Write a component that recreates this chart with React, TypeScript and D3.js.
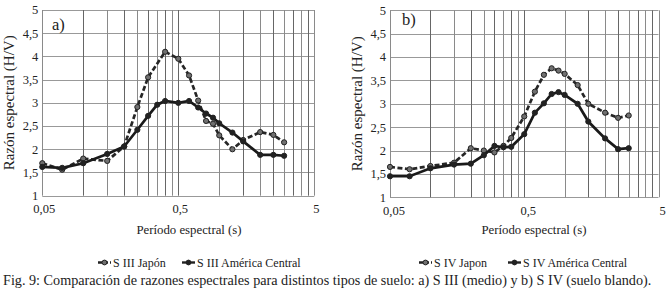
import React from "react";
import * as d3 from "d3";

const yTickValues = [1, 1.5, 2, 2.5, 3, 3.5, 4, 4.5, 5];
const xTickValues = [0.05, 0.5, 5];
const xTickLabels = ["0,05", "0,5", "5"];

const periodsJapA = [0.05, 0.07, 0.1, 0.15, 0.2, 0.25, 0.3, 0.4, 0.5, 0.6, 0.7, 0.8, 0.9, 1.0, 1.25, 1.5, 2.0, 2.5, 3.0];
const japonA = [1.70, 1.56, 1.80, 1.75, 2.06, 2.91, 3.55, 4.10, 3.95, 3.59, 3.05, 2.61, 2.55, 2.30, 2.00, 2.20, 2.37, 2.31, 2.15];
const periodsAmA = [0.05, 0.07, 0.1, 0.15, 0.2, 0.25, 0.3, 0.35, 0.4, 0.5, 0.6, 0.7, 0.8, 0.9, 1.0, 1.25, 1.5, 2.0, 2.5, 3.0];
const amCentralA = [1.62, 1.60, 1.70, 1.90, 2.06, 2.42, 2.72, 2.96, 3.04, 3.00, 3.04, 2.90, 2.77, 2.68, 2.56, 2.36, 2.17, 1.88, 1.88, 1.86];

const periodsB = [0.05, 0.07, 0.1, 0.15, 0.2, 0.25, 0.3, 0.35, 0.4, 0.5, 0.6, 0.7, 0.8, 0.9, 1.0, 1.25, 1.5, 2.0, 2.5, 3.0];
const japonB = [1.65, 1.60, 1.67, 1.74, 2.05, 2.00, 1.96, 2.10, 2.27, 2.73, 3.26, 3.62, 3.76, 3.71, 3.64, 3.40, 3.00, 2.81, 2.70, 2.75];
const amCentralB = [1.45, 1.45, 1.62, 1.70, 1.72, 1.90, 2.10, 2.07, 2.08, 2.35, 2.81, 3.01, 3.21, 3.25, 3.19, 3.00, 2.62, 2.26, 2.03, 2.05];

const legendA = ["S III Japón", "S III América Central"];
const legendB = ["S IV Japon", "S IV América Central"];
const caption = "Fig. 9: Comparación de razones espectrales para distintos tipos de suelo: a) S III (medio) y b) S IV (suelo blando).";

const FONT = "'Liberation Serif', 'Times New Roman', serif";
const INK = "#222";

type Series = { x: number[]; y: number[]; dashed: boolean };

function Panel(props: {
  x0: number; x1: number; yTop: number; yBot: number;
  label: string; labelX: number; labelY: number;
  series: Series[]; titleX: number; yTitleX: number;
  legend: string[]; legendX: number[]; tickDx: number;
}) {
  const { x0, x1, yTop, yBot } = props;
  const xs = d3.scaleLog().domain([0.05, 5]).range([x0, x1]);
  const ys = d3.scaleLinear().domain([1, 5]).range([yBot, yTop]);
  const grid: number[] = [];
  [0.05, 0.5].forEach((b) => { for (let k = 1; k <= 9; k++) grid.push(b * k); });
  grid.push(5);
  const line = d3.line<[number, number]>().x((d) => xs(d[0])).y((d) => ys(d[1]));
  return (
    <g>
      {yTickValues.map((v) => (
        <line key={"h" + v} x1={x0} x2={x1} y1={Math.round(ys(v)) + 0.5} y2={Math.round(ys(v)) + 0.5} stroke="#999" strokeWidth={1} />
      ))}
      {grid.map((v, i) => (
        <line key={"v" + i} x1={Math.round(xs(v)) + 0.5} x2={Math.round(xs(v)) + 0.5} y1={yTop} y2={yBot} stroke={i % 2 ? "#666" : "#8a8a8a"} strokeWidth={1} />
      ))}
      {yTickValues.map((v) => (
        <text key={"yl" + v} x={x0 - 4} y={ys(v)} dy="0.35em" textAnchor="end" fontSize={12.5} fontFamily={FONT} fill={INK}>
          {String(v).replace(".", ",")}
        </text>
      ))}
      {xTickValues.map((v, i) => (
        <text key={"xl" + v} x={xs(v) + props.tickDx} y={yBot + 17.3} textAnchor="middle" fontSize={12.5} fontFamily={FONT} fill={INK}>
          {xTickLabels[i]}
        </text>
      ))}
      <text x={props.labelX} y={props.labelY} fontSize={16.5} fontFamily={FONT} fill={INK}>{props.label}</text>
      <text transform={`translate(${props.yTitleX},${(yTop + yBot) / 2}) rotate(-90)`} textAnchor="middle" fontSize={15} fontFamily={FONT} fill={INK}>
        Razón espectral (H/V)
      </text>
      <text x={props.titleX} y={234} textAnchor="middle" fontSize={12.8} fontFamily={FONT} fill={INK}>Período espectral (s)</text>
      {props.series.map((s, si) => {
        const pts = s.x.map((xv, i) => [xv, s.y[i]] as [number, number]);
        return (
          <g key={"s" + si}>
            <path d={line(pts) || ""} fill="none" stroke={s.dashed ? "#262626" : "#1a1a1a"} strokeWidth={2.7} strokeDasharray={s.dashed ? "5,2.5" : undefined} />
            {pts.map((p, i) => (
              <circle key={i} cx={xs(p[0])} cy={ys(p[1])} r={2.6} fill={s.dashed ? "#707070" : "#222"} stroke="#222" strokeWidth={1} />
            ))}
          </g>
        );
      })}
      {props.legend.map((t, i) => (
        <g key={"lg" + i}>
          <line x1={props.legendX[i]} x2={props.legendX[i] + 13} y1={262.5} y2={262.5} stroke="#222" strokeWidth={2.4} strokeDasharray={i === 0 ? "4,2" : undefined} />
          <circle cx={props.legendX[i] + 6.5} cy={262.5} r={2.4} fill={i === 0 ? "#707070" : "#222"} stroke="#222" strokeWidth={1} />
          <text x={props.legendX[i] + 15} y={266.5} fontSize={12} fontFamily={FONT} fill={INK}>{t}</text>
        </g>
      ))}
    </g>
  );
}

export default function App() {
  return (
    <svg width={672} height={294} style={{ position: "absolute", left: 0, top: 0, background: "#fff" }}>
      <rect width={672} height={294} fill="#fff" />
      <Panel x0={42.3} x1={314.3} yTop={10} yBot={195.7} label="a)" labelX={52} labelY={30}
        series={[{ x: periodsJapA, y: japonA, dashed: true }, { x: periodsAmA, y: amCentralA, dashed: false }]}
        titleX={189} yTitleX={14} legend={legendA} legendX={[98, 182]} tickDx={2} />
      <Panel x0={390} x1={658.5} yTop={10.3} yBot={197.3} label="b)" labelX={402} labelY={25}
        series={[{ x: periodsB, y: japonB, dashed: true }, { x: periodsB, y: amCentralB, dashed: false }]}
        titleX={534} yTitleX={362} legend={legendB} legendX={[419, 508]} tickDx={4} />
      <text x={3} y={284.5} fontSize={14.2} fontFamily={FONT} fill={INK}>{caption}</text>
    </svg>
  );
}
